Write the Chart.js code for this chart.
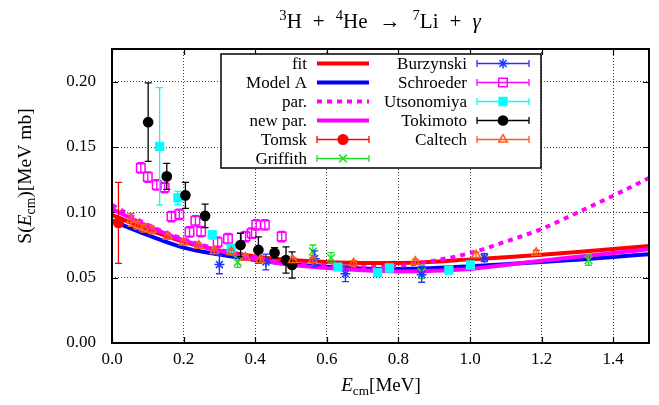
<!DOCTYPE html>
<html><head><meta charset="utf-8">
<script src="https://cdn.jsdelivr.net/npm/chart.js@4/dist/chart.umd.min.js"></script>
<style>html,body{margin:0;padding:0;background:#fff}#wrap{width:659px;height:405px;position:relative}</style>
</head><body><div id="wrap"><canvas id="c"></canvas></div>
<script>
// ---------- data ----------
const curveE   = [0,0.1,0.2,0.3,0.4,0.5,0.6,0.7,0.8,0.9,1.0,1.1,1.2,1.3,1.4,1.5];
const fitS     = [0.0980,0.0870,0.0775,0.0708,0.0663,0.0635,0.0620,0.0613,0.0613,0.0622,0.0640,0.0657,0.0676,0.0697,0.0719,0.0743];
const modelAS  = [0.0935,0.0825,0.0730,0.0677,0.0635,0.0602,0.0583,0.0571,0.0567,0.0574,0.0588,0.0603,0.0619,0.0638,0.0658,0.0680];
const parS     = [0.1057,0.0905,0.0795,0.0715,0.0655,0.0615,0.0590,0.0580,0.0590,0.0630,0.0688,0.0776,0.0873,0.0998,0.1127,0.1263];
const newParS  = [0.1025,0.0895,0.0785,0.0705,0.0640,0.0598,0.0573,0.0556,0.0548,0.0552,0.0567,0.0597,0.0630,0.0660,0.0688,0.0717];

const tomskE = [0.018];
const tomskS = [0.092];
const tomskErr = [0.031];

const griffithE = [0.351,0.561,0.612,0.865,1.331];
const griffithS = [0.0618,0.0700,0.0652,0.0545,0.0635];
const griffithErr = [0.004,0.005,0.004,0.005,0.004];

const burzynskiE = [0.300,0.430,0.566,0.652,0.865,1.040];
const burzynskiS = [0.0600,0.0620,0.0645,0.0530,0.0525,0.0653];
const burzynskiErr = [0.007,0.006,0.006,0.006,0.006,0.003];

const schroederE = [0.0805,0.100,0.125,0.147,0.166,0.188,0.2165,0.233,0.249,0.295,0.324,0.373,0.390,0.403,0.427,0.474];
const schroederS = [0.134,0.127,0.121,0.119,0.0968,0.0985,0.0850,0.0935,0.0853,0.0772,0.0798,0.0815,0.0840,0.0904,0.0904,0.0815];
const schroederErr = [0.004,0.004,0.004,0.004,0.004,0.004,0.004,0.004,0.004,0.004,0.004,0.004,0.004,0.004,0.004,0.004];

const utsonomiyaE = [0.133,0.184,0.280,0.333,0.631,0.742,0.775,0.941,1.001];
const utsonomiyaS = [0.1505,0.1110,0.0827,0.0725,0.0580,0.0540,0.0574,0.0558,0.0597];
const utsonomiyaErr = [0.045,0.005,0.003,0.003,0.002,0.002,0.002,0.002,0.002];

const tokimotoE = [0.101,0.153,0.205,0.260,0.359,0.409,0.454,0.486,0.503];
const tokimotoS = [0.169,0.1275,0.113,0.0973,0.0750,0.0712,0.0690,0.0635,0.0597];
const tokimotoErr = [0.030,0.010,0.010,0.009,0.009,0.010,0.004,0.010,0.010];

const caltechE = [0.0535,0.072,0.089,0.111,0.156,0.200,0.2425,0.286,0.333,0.373,0.414,0.505,0.561,0.675,0.847,1.017,1.185];
const caltechS = [0.0942,0.0900,0.0878,0.0866,0.0815,0.0771,0.0745,0.0704,0.0697,0.0653,0.0635,0.0635,0.0635,0.0610,0.0622,0.0673,0.0690];
const caltechErr = [0.005,0.003,0.003,0.003,0.002,0.002,0.002,0.002,0.002,0.002,0.002,0.002,0.002,0.002,0.002,0.002,0.002];

const xTickValues = [0,0.2,0.4,0.6,0.8,1.0,1.2,1.4];
const xTickLabels = ['0.0','0.2','0.4','0.6','0.8','1.0','1.2','1.4'];
const yTickValues = [0,0.05,0.10,0.15,0.20];
const yTickLabels = ['0.00','0.05','0.10','0.15','0.20'];

// ---------- styles ----------
const SERIF = "'Liberation Serif','DejaVu Serif',serif";
const C = {
  red:'#ff0000', blue:'#0000ff', mag:'#ff00ff', cyan:'#00ffff',
  black:'#000000', green:'#22e022', burz:'#1f35ff', cal:'#ff5a1e'
};

function pts(xs, ys){ return xs.map((x,i)=>({x:x, y:ys[i]})); }

function curve(label, ys, color, dash, order){
  return { label, data: pts(curveE, ys), showLine:true, borderColor:color, backgroundColor:color,
    borderWidth:4, borderDash: dash||[], pointRadius:0, pointHoverRadius:0,
    cubicInterpolationMode:'monotone', order, fill:false };
}
function pointSet(label, xs, ys, errs, color, style, radius, fillColor, order){
  return { label, data: pts(xs, ys), errors: errs, showLine:false, pointStyle:style,
    pointRadius:radius, pointHoverRadius:radius, pointBorderColor:color, borderColor:color,
    pointBackgroundColor: fillColor, backgroundColor: fillColor, pointBorderWidth:1.5, order };
}

const datasets = [
  curve('Model A', modelAS, C.blue, null, 20),
  curve('fit', fitS, C.red, null, 19),
  curve('new par.', newParS, C.mag, null, 18),
  curve('par.', parS, C.mag, [5,5], 17),
  pointSet('Tomsk', tomskE, tomskS, tomskErr, C.red, 'circle', 4.8, C.red, 9),
  pointSet('Griffith', griffithE, griffithS, griffithErr, C.green, 'crossRot', 5.5, C.green, 8),
  pointSet('Burzynski', burzynskiE, burzynskiS, burzynskiErr, C.burz, 'star', 5, C.burz, 7),
  pointSet('Schroeder', schroederE, schroederS, schroederErr, C.mag, 'rect', 6, 'rgba(0,0,0,0)', 6),
  pointSet('Utsonomiya', utsonomiyaE, utsonomiyaS, utsonomiyaErr, C.cyan, 'rect', 5.5, C.cyan, 5),
  pointSet('Tokimoto', tokimotoE, tokimotoS, tokimotoErr, C.black, 'circle', 4.6, C.black, 4),
  pointSet('Caltech', caltechE, caltechS, caltechErr, C.cal, 'triangle', 5, 'rgba(0,0,0,0)', 3)
];

// ---------- helpers ----------
function tokFont(t, base){ const s = (t.sup||t.sub)? base*0.7 : base; return (t.italic?'italic ':'') + s + 'px ' + SERIF; }
function richWidth(ctx, tokens, base){
  let w = 0;
  tokens.forEach(t=>{ if (t.gap){ w += t.gap; return; } ctx.font = tokFont(t, base); w += ctx.measureText(t.t).width; });
  return w;
}
function drawRich(ctx, tokens, x, y, base){
  let cx = x;
  tokens.forEach(t=>{ if (t.gap){ cx += t.gap; return; }
    ctx.font = tokFont(t, base);
    const dy = t.sup ? -base*0.38 : (t.sub ? base*0.22 : 0);
    ctx.fillText(t.t, cx, y + dy); cx += ctx.measureText(t.t).width; });
}
function drawMarker(ctx, style, r, stroke, fill, x, y){
  ctx.save(); ctx.strokeStyle = stroke; ctx.fillStyle = fill; ctx.lineWidth = 1.5; ctx.setLineDash([]);
  Chart.helpers.drawPoint(ctx, {pointStyle:style, rotation:0, radius:r, borderWidth:1.5}, x, y);
  ctx.restore();
}
function errBar(ctx, x, y1, y2, color, cap, lw){
  ctx.save(); ctx.strokeStyle = color; ctx.lineWidth = lw; ctx.setLineDash([]);
  ctx.beginPath(); ctx.moveTo(x, y1); ctx.lineTo(x, y2);
  ctx.moveTo(x-cap, y1); ctx.lineTo(x+cap, y1);
  ctx.moveTo(x-cap, y2); ctx.lineTo(x+cap, y2); ctx.stroke(); ctx.restore();
}

// ---------- plugins ----------
const errorBars = {
  id:'errorBars',
  beforeDatasetDraw(chart, args){
    const ds = chart.data.datasets[args.index];
    if (!ds.errors) return;
    const xs = chart.scales.x, ys = chart.scales.y, ctx = chart.ctx;
    ctx.save();
    ctx.beginPath(); const a = chart.chartArea; ctx.rect(a.left, a.top, a.right-a.left, a.bottom-a.top); ctx.clip();
    ds.data.forEach((p,i)=>{
      const e = ds.errors[i];
      errBar(ctx, xs.getPixelForValue(p.x), ys.getPixelForValue(p.y+e), ys.getPixelForValue(p.y-e), ds.borderColor, 3.5, 1.3);
    });
    ctx.restore();
  }
};

const frame = {
  id:'frame',
  beforeDatasetsDraw(chart){
    const ctx = chart.ctx, a = chart.chartArea, xs = chart.scales.x, ys = chart.scales.y;
    ctx.save(); ctx.strokeStyle = '#000'; ctx.lineWidth = 1.2; ctx.setLineDash([]);
    ctx.beginPath();
    xTickValues.forEach(v=>{ const px = Math.round(xs.getPixelForValue(v))+0.5;
      ctx.moveTo(px, a.bottom); ctx.lineTo(px, a.bottom-6); ctx.moveTo(px, a.top); ctx.lineTo(px, a.top+6); });
    yTickValues.forEach(v=>{ const py = Math.round(ys.getPixelForValue(v))+0.5;
      ctx.moveTo(a.left, py); ctx.lineTo(a.left+6, py); ctx.moveTo(a.right, py); ctx.lineTo(a.right-6, py); });
    ctx.stroke(); ctx.restore();
  },
  afterDraw(chart){
    const ctx = chart.ctx, a = chart.chartArea;
    ctx.save(); ctx.strokeStyle = '#000'; ctx.lineWidth = 2; ctx.setLineDash([]);
    ctx.strokeRect(a.left, a.top, a.right-a.left, a.bottom-a.top);
    ctx.restore();
    // legend
    ctx.save();
    const bx = 221, by = 54, bw = 320, bh = 114;
    ctx.fillStyle = '#fff'; ctx.fillRect(bx, by, bw, bh);
    ctx.strokeStyle = '#000'; ctx.lineWidth = 1.5; ctx.strokeRect(bx, by, bw, bh);
    const rowY = i => 63.5 + i*19;
    ctx.font = '17px ' + SERIF; ctx.fillStyle = '#000'; ctx.textAlign = 'right'; ctx.textBaseline = 'middle';
    const lines = [['fit', C.red, []], ['Model A', C.blue, []], ['par.', C.mag, [5,5]], ['new par.', C.mag, []]];
    lines.forEach((l,i)=>{
      ctx.fillStyle = '#000'; ctx.fillText(l[0], 307, rowY(i)+1);
      ctx.save(); ctx.strokeStyle = l[1]; ctx.lineWidth = 4; ctx.setLineDash(l[2]);
      ctx.beginPath(); ctx.moveTo(317, rowY(i)); ctx.lineTo(369, rowY(i)); ctx.stroke(); ctx.restore();
    });
    const marks = [
      [0, 4, 'Tomsk', datasets[4]], [0, 5, 'Griffith', datasets[5]],
      [1, 0, 'Burzynski', datasets[6]], [1, 1, 'Schroeder', datasets[7]], [1, 2, 'Utsonomiya', datasets[8]],
      [1, 3, 'Tokimoto', datasets[9]], [1, 4, 'Caltech', datasets[10]]
    ];
    marks.forEach(m=>{
      const tx = m[0] ? 467 : 307, x1 = m[0] ? 477 : 317, x2 = m[0] ? 529 : 369, y = rowY(m[1]);
      const ds = m[3];
      ctx.fillStyle = '#000'; ctx.fillText(m[2], tx, y+1);
      ctx.save(); ctx.strokeStyle = ds.borderColor; ctx.lineWidth = 1.3;
      ctx.beginPath(); ctx.moveTo(x1, y); ctx.lineTo(x2, y);
      ctx.moveTo(x1, y-3.5); ctx.lineTo(x1, y+3.5); ctx.moveTo(x2, y-3.5); ctx.lineTo(x2, y+3.5); ctx.stroke(); ctx.restore();
      drawMarker(ctx, ds.pointStyle, ds.pointRadius, ds.borderColor, ds.backgroundColor, (x1+x2)/2, y);
    });
    ctx.restore();
    // titles
    ctx.save(); ctx.fillStyle = '#000'; ctx.textAlign = 'left'; ctx.textBaseline = 'alphabetic';
    const title = [{t:'3',sup:1},{t:'H'},{gap:11},{t:'+'},{gap:11},{t:'4',sup:1},{t:'He'},{gap:12},{t:'\u2192'},{gap:12},
                   {t:'7',sup:1},{t:'Li'},{gap:11},{t:'+'},{gap:11},{t:'\u03b3',italic:1}];
    const tw = richWidth(ctx, title, 21);
    drawRich(ctx, title, 380 - tw/2, 28, 21);
    const xt = [{t:'E',italic:1},{t:'cm',sub:1},{t:'[MeV]'}];
    const xw = richWidth(ctx, xt, 19);
    drawRich(ctx, xt, 381 - xw/2, 391, 19);
    const yt = [{t:'S('},{t:'E',italic:1},{t:'cm',sub:1},{t:')[MeV mb]'}];
    const yw = richWidth(ctx, yt, 19.5);
    ctx.translate(31, 176); ctx.rotate(-Math.PI/2);
    drawRich(ctx, yt, -yw/2, 0, 19.5);
    ctx.restore();
  }
};

new Chart(document.getElementById('c'), {
  type:'scatter',
  data:{ datasets },
  options:{
    responsive:true, maintainAspectRatio:false, animation:false,
    layout:{ padding:{ top:49, right:10, left:0, bottom:0 } },
    plugins:{ legend:{display:false}, tooltip:{enabled:false}, title:{display:false} },
    scales:{
      x:{ type:'linear', min:0, max:1.5,
        afterFit(s){ s.height = 62; },
        afterBuildTicks(s){ s.ticks = xTickValues.map(v=>({value:v})); },
        ticks:{ callback:(v,i)=>xTickLabels[i], font:{family:SERIF, size:17}, color:'#000', padding:6, maxRotation:0, autoSkip:false },
        grid:{ color:'rgba(0,0,0,0.75)', lineWidth:1, drawTicks:false },
        border:{ display:false, dash:[1,2] } },
      y:{ type:'linear', min:0, max:0.225,
        afterFit(s){ s.width = 112; },
        afterBuildTicks(s){ s.ticks = yTickValues.map(v=>({value:v})); },
        ticks:{ callback:(v,i)=>yTickLabels[i], font:{family:SERIF, size:17}, color:'#000', padding:16, autoSkip:false },
        grid:{ color:'rgba(0,0,0,0.75)', lineWidth:1, drawTicks:false },
        border:{ display:false, dash:[1,2] } }
    }
  },
  plugins:[errorBars, frame]
});
</script></body></html>
